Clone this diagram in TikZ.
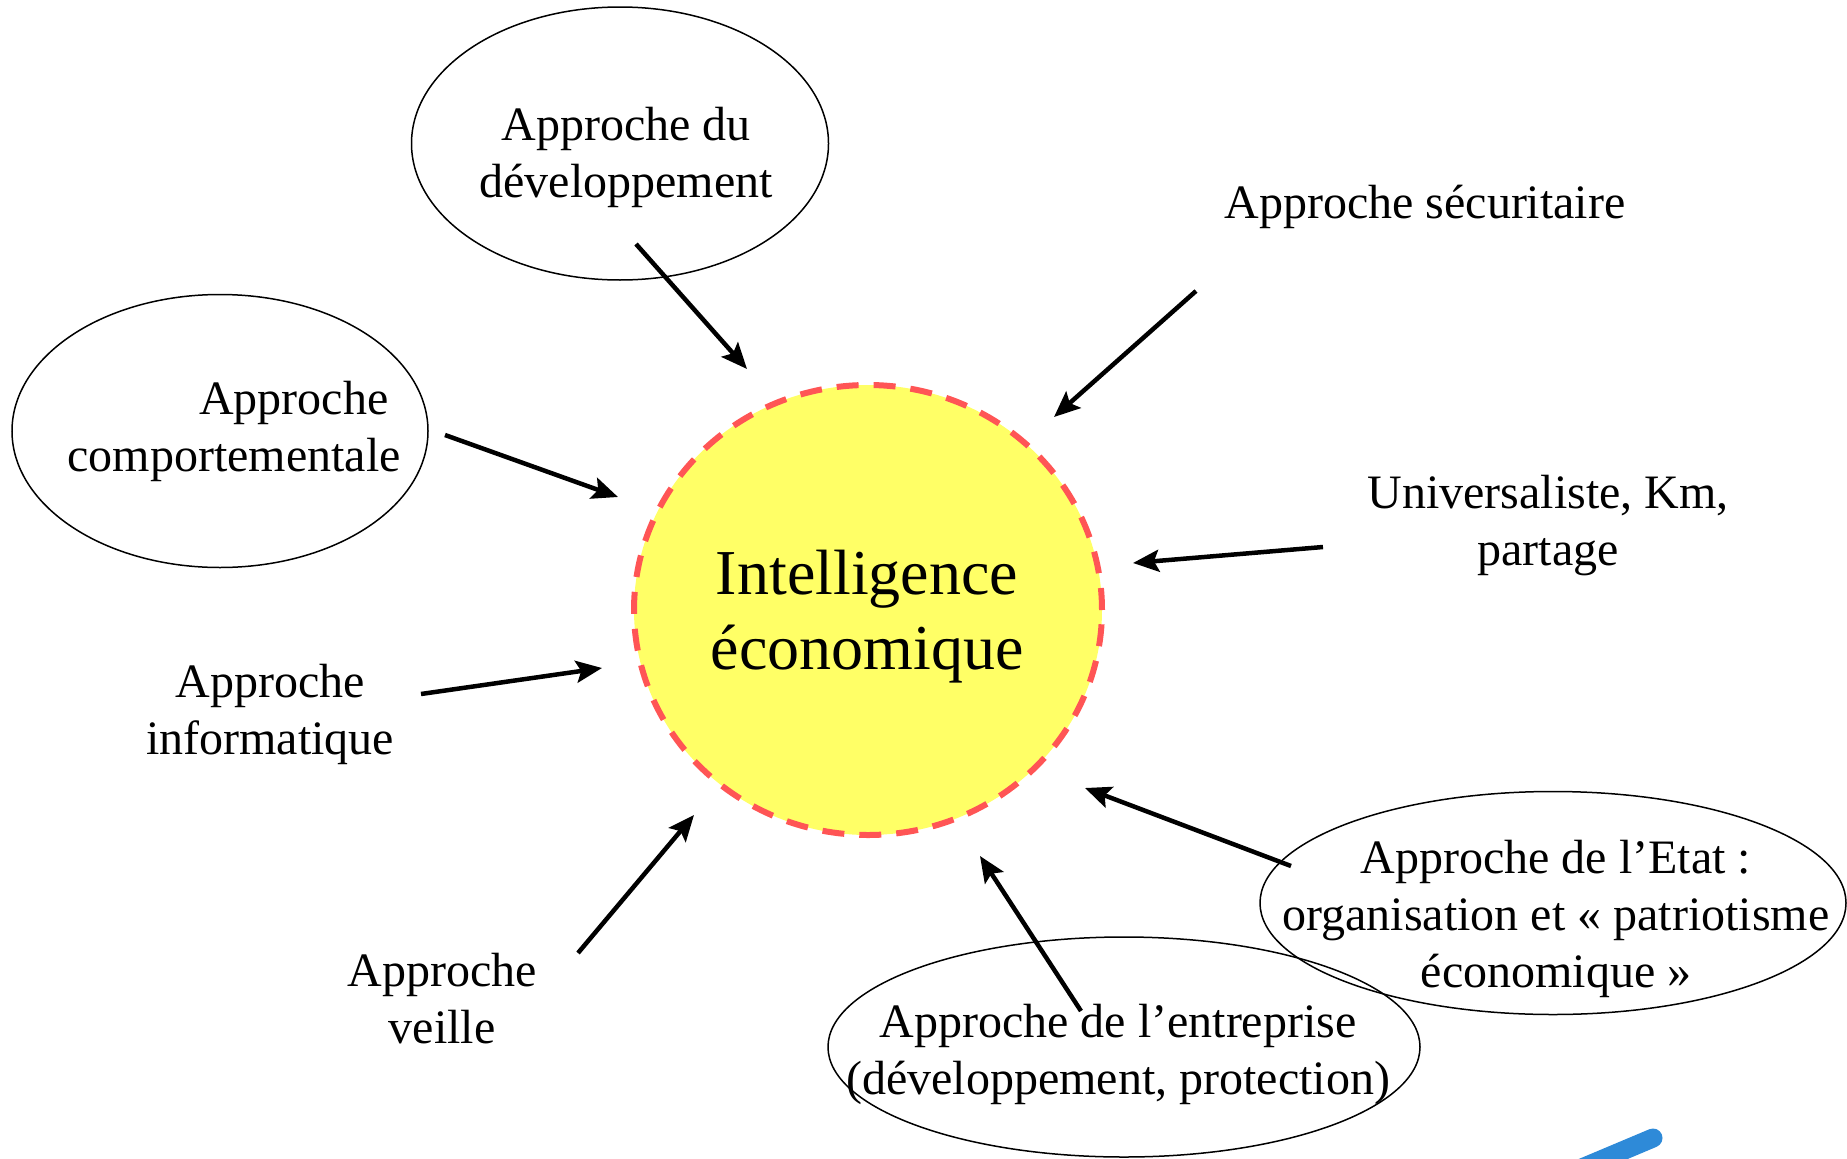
\documentclass[tikz,border=0pt]{standalone}
\usepackage{fontspec}
\setmainfont{Liberation Serif}
\usetikzlibrary{shapes.geometric,arrows.meta}
\definecolor{ieyellow}{HTML}{FFFF66}
\definecolor{iered}{HTML}{FF5555}
\definecolor{strokeblue}{HTML}{2E8AD8}
\begin{document}
\begin{tikzpicture}[x=1pt,y=-1pt,
  lbl/.style={font=\fontsize{48}{57}\selectfont, align=center, inner sep=0pt},
  oval/.style={draw, ellipse, line width=1.5pt, inner sep=0pt},
  arr/.style={line width=4.5pt, -{Stealth[length=26pt,width=22pt,inset=5pt]}}]
\useasboundingbox (0,0) rectangle (1847,1159);
% central circle
\node[ellipse, fill=ieyellow, draw=iered, line width=6pt, dash pattern=on 22pt off 15pt,
      minimum width=468pt, minimum height=450pt, inner sep=0pt] (ie) at (868,610) {};
\node[font=\fontsize{64}{75}\selectfont, align=center, inner sep=0pt] (ietxt) at (867,617) {Intelligence\\économique};
% ellipses
\node[oval, minimum width=417pt, minimum height=273pt] (dev) at (620,143.5) {};
\node[oval, minimum width=416pt, minimum height=273pt] (comp) at (220,431) {};
\node[oval, minimum width=586pt, minimum height=223pt] (etat) at (1553,903) {};
\node[oval, minimum width=592pt, minimum height=220pt] (entr) at (1124,1047) {};
% labels
\node[lbl] (devtxt) at (626,157) {Approche du\\développement};
\node[lbl, align=right] (comptxt) at (234,431) {Approche\hspace*{12pt}\\comportementale};
\node[lbl] (infotxt) at (270,714) {Approche\\informatique};
\node[lbl] (veiltxt) at (442,999) {Approche\\veille};
\node[lbl] (sectxt) at (1425,207) {Approche sécuritaire};
\node[lbl] (unitxt) at (1548,526) {Universaliste, Km,\\partage};
\node[lbl] (etattxt) at (1556,919) {Approche de l’Etat :\\organisation et « patriotisme\\économique »};
\node[lbl] (entrtxt) at (1118,1054) {Approche de l’entreprise\\(développement, protection)};
% arrow end points
\coordinate (a1s) at (636,244);  \coordinate (a1e) at (747,369);
\coordinate (a2s) at (1196,291); \coordinate (a2e) at (1054,417);
\coordinate (a3s) at (445,435);  \coordinate (a3e) at (618,497);
\coordinate (a4s) at (1323,547); \coordinate (a4e) at (1133,563);
\coordinate (a5s) at (421,694);  \coordinate (a5e) at (602,668);
\coordinate (a6s) at (578,953);  \coordinate (a6e) at (694,815);
\coordinate (a7s) at (1291,866); \coordinate (a7e) at (1085,788);
\coordinate (a8s) at (1081,1011); \coordinate (a8e) at (980,856);
\draw[arr] (a1s) -- (a1e);
\draw[arr] (a2s) -- (a2e);
\draw[arr] (a3s) -- (a3e);
\draw[arr] (a4s) -- (a4e);
\draw[arr] (a5s) -- (a5e);
\draw[arr] (a6s) -- (a6e);
\draw[arr] (a7s) -- (a7e);
\draw[arr] (a8s) -- (a8e);
% blue stroke at the bottom right
\begin{scope}
\clip (0,0) rectangle (1847,1159);
\draw[strokeblue, line width=19pt, line cap=round] (1577,1170) -- (1653,1138);
\end{scope}
\end{tikzpicture}
\end{document}
